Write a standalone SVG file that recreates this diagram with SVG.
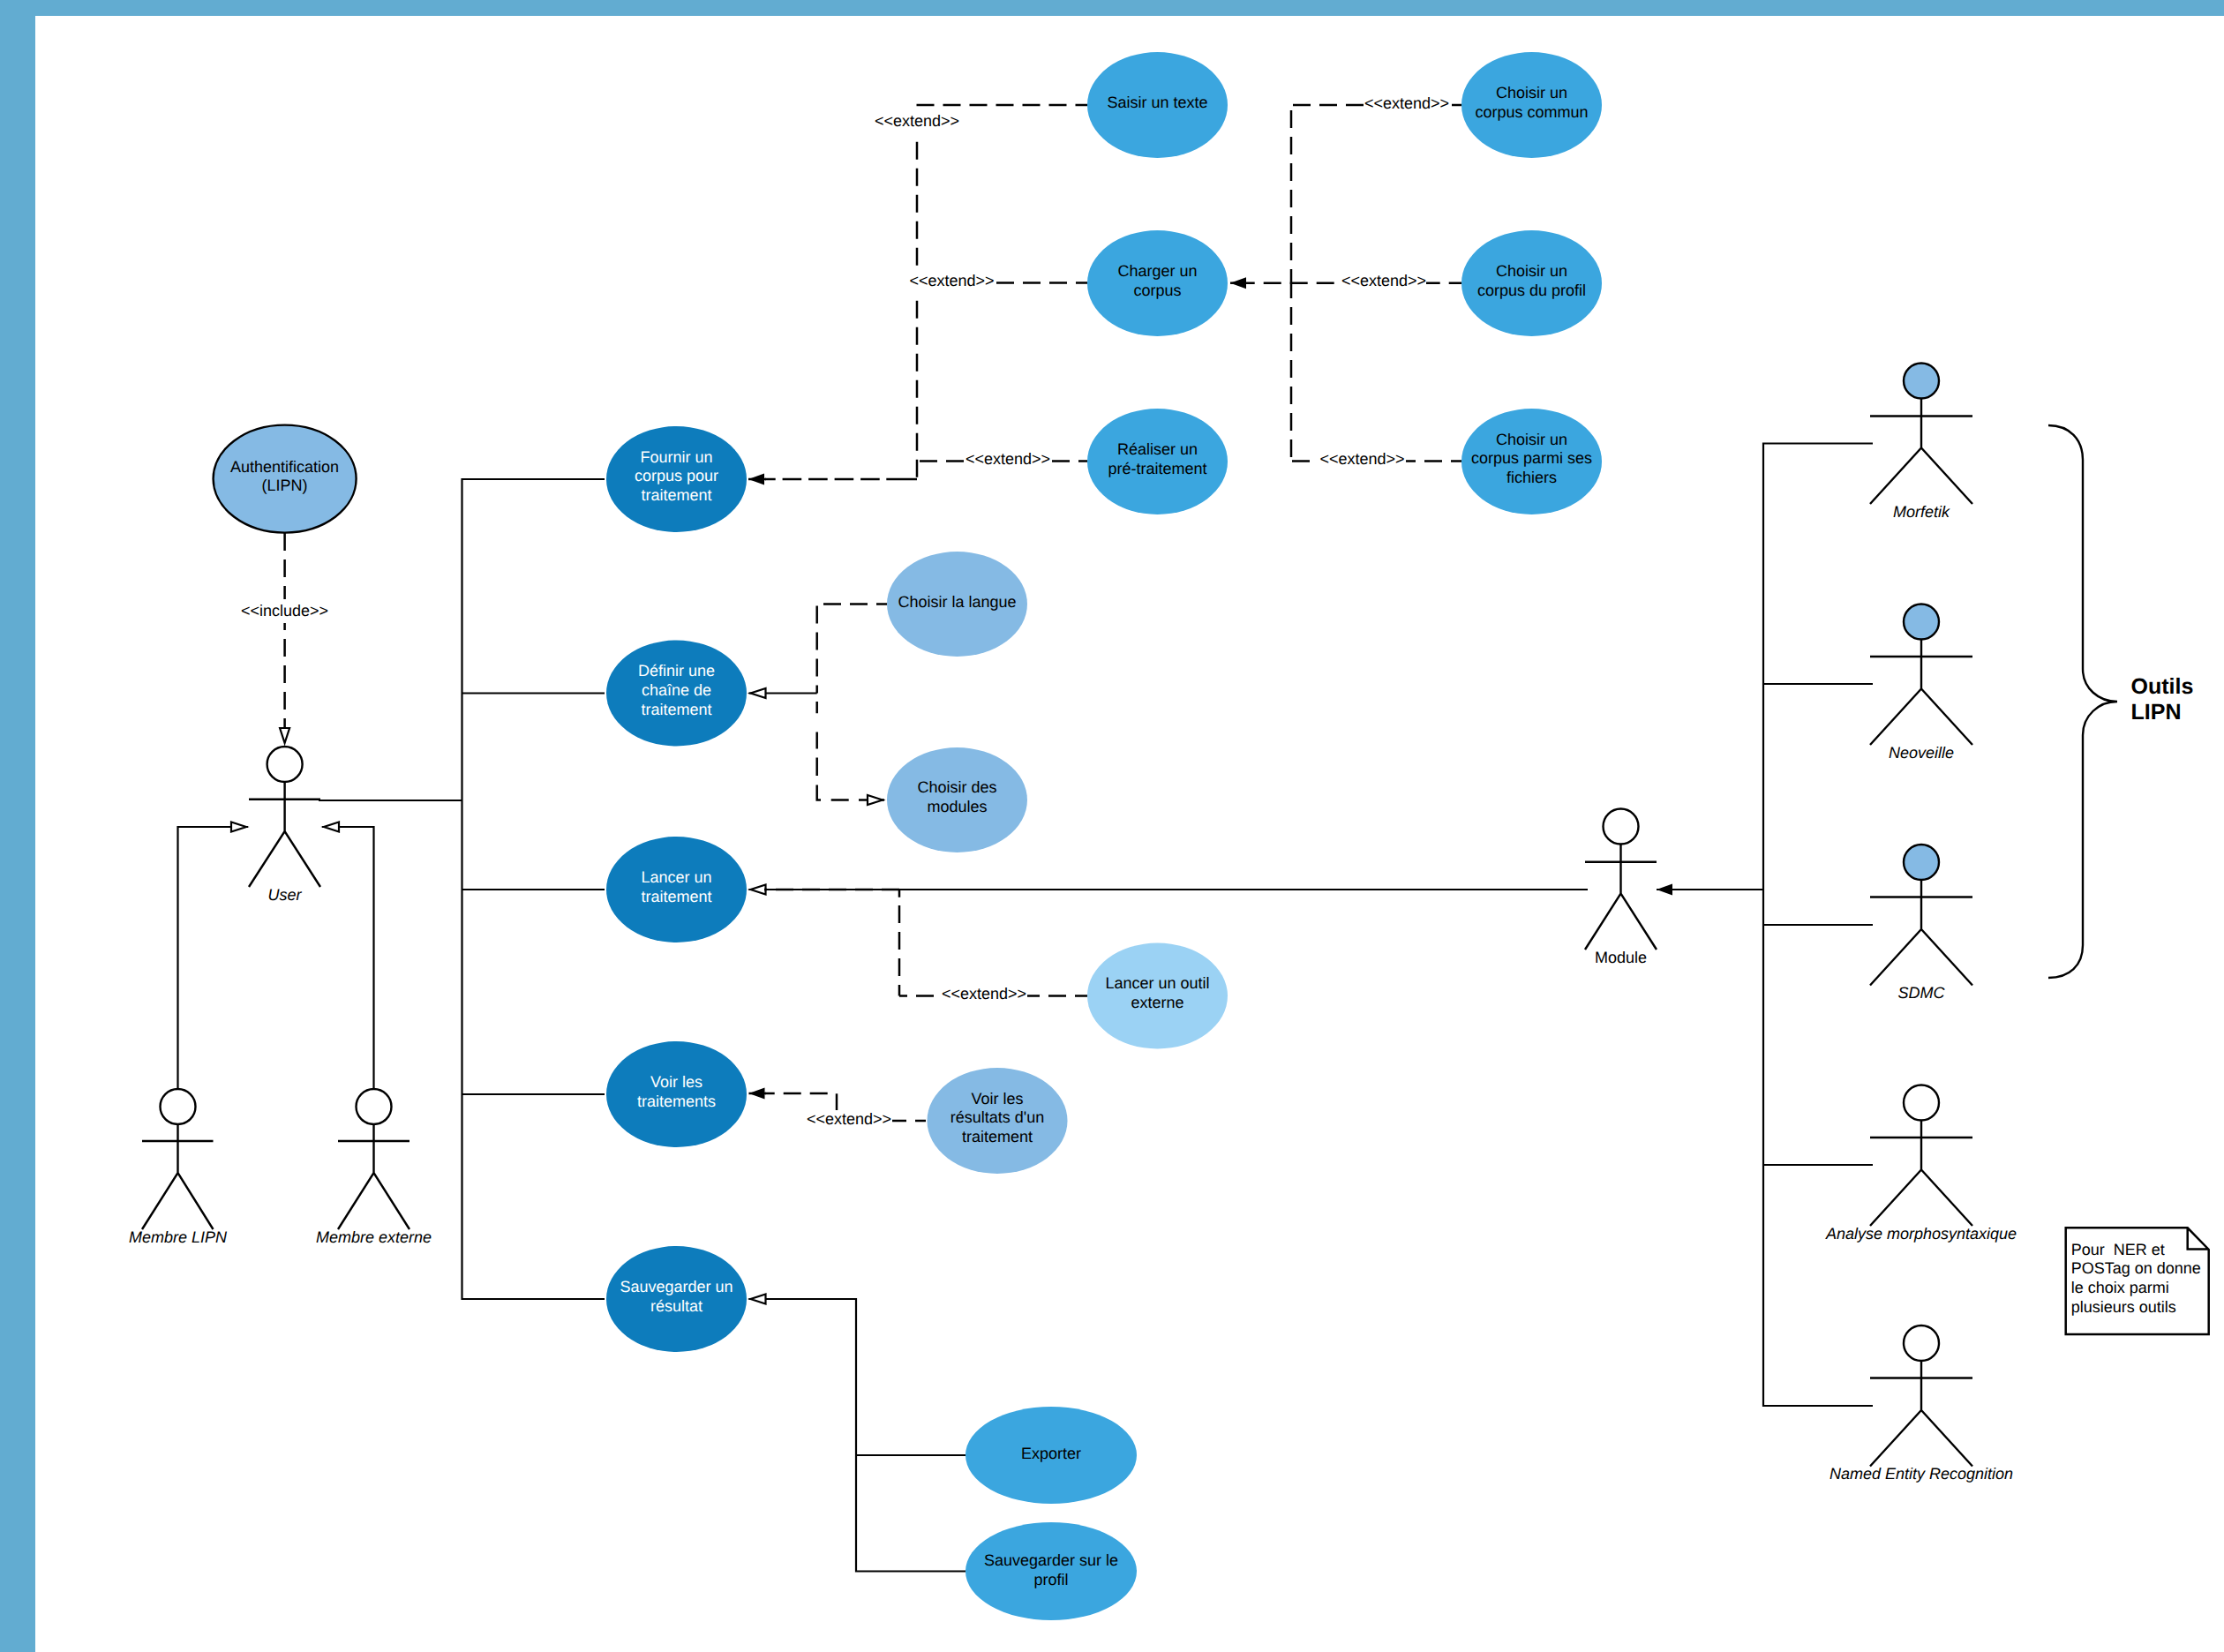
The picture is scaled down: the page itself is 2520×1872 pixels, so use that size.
<svg xmlns="http://www.w3.org/2000/svg" width="2520" height="1872" viewBox="0 0 2520 1872">
<style>
text{font-family:"Liberation Sans",Arial,sans-serif;font-size:18px;fill:#000;text-anchor:middle;text-rendering:geometricPrecision}
.w{fill:#fff}
.i{font-style:italic}
.l{text-anchor:start;white-space:pre}
.b{font-size:25px;font-weight:bold;text-anchor:start}
.dark{fill:#0d7cbc}
.mid{fill:#3ba6df}
.light{fill:#85bae4}
.pale{fill:#9bd2f4}
.fig{fill:none;stroke:#000;stroke-width:2.4}
.head{fill:#fff;stroke:#000;stroke-width:2.4}
.headb{fill:#85bae4;stroke:#000;stroke-width:2.4}
.c{fill:none;stroke:#000;stroke-width:2.2}
.s{fill:none;stroke:#000;stroke-width:2.5}
.d{fill:none;stroke:#000;stroke-width:2.5;stroke-dasharray:20 10}
.mask{fill:#fff}
</style>
<defs>
<marker id="hollow" markerUnits="userSpaceOnUse" markerWidth="26" markerHeight="16" refX="21" refY="8" orient="auto"><path d="M19,8 L2,2.5 L2,13.5 Z" fill="#fff" stroke="#000" stroke-width="2.2"/></marker>
<marker id="solid" markerUnits="userSpaceOnUse" markerWidth="22" markerHeight="16" refX="19" refY="8" orient="auto"><path d="M19,8 L1,1.5 L1,14.5 Z" fill="#000"/></marker>
</defs>
<rect x="0" y="0" width="2520" height="1872" fill="#fff"/>
<g id="frame"><rect x="0" y="0" width="2520" height="18" fill="#62acd1"/><rect x="0" y="0" width="40" height="1872" fill="#62acd1"/></g>

<g id="connectors">
<path class="c" d="M685,543 H523.5 V1472 H685"/>
<path class="c" d="M361,907 H523.5"/>
<path class="c" d="M523.5,785.5 H685"/>
<path class="c" d="M523.5,1008 H685"/>
<path class="c" d="M523.5,1240 H685"/>
<path class="c" d="M201.5,1233 V937 H281" marker-end="url(#hollow)"/>
<path class="c" d="M423.5,1233 V937 H365" marker-end="url(#hollow)"/>
<path class="d" d="M322.6,604 V844" marker-end="url(#hollow)"/>
<path class="d" d="M1038.5,119 H1232"/>
<path class="d" d="M1039,160.7 V543"/>
<path class="s" d="M1039,543 H1004.3"/>
<path class="d" style="stroke-dasharray:21.6 7.9" d="M996.7,543 H867"/>
<path class="s" d="M868,543 H848" marker-end="url(#solid)"/>
<path class="d" d="M1039,320.5 H1232"/>
<path class="d" d="M1042,522.5 H1232"/>
<path class="d" d="M1465,119 H1656"/>
<path class="d" d="M1463,125 V320.5"/>
<path class="d" d="M1463,518 V320.5"/>
<path class="d" d="M1401.7,320.7 H1656"/>
<path class="s" d="M1412,320.7 H1394" marker-end="url(#solid)"/>
<path class="d" d="M1464,522.5 H1656"/>
<path class="d" d="M933,684.5 H1005"/>
<path class="d" d="M925.7,686.5 V785.5"/>
<path class="s" d="M925.7,795 V808.3 M925.7,829.5 V848.5 M925.7,858.5 V879 M925.7,889.5 V906.5 H930 M941.7,906.5 H961.7 M973,906.5 H986"/>
<path class="s" d="M984,906.5 H1002" marker-end="url(#hollow)"/>
<path class="c" d="M925.7,785.5 H848.5" marker-end="url(#hollow)"/>
<path class="c" d="M1799,1008 H848.5" marker-end="url(#hollow)"/>
<path class="s" d="M1019,1008 V1016.7 M1019,1128.5 H1028"/>
<path class="d" d="M1019,1026 V1128.5"/>
<path class="d" d="M1038,1128.5 H1232"/>
<path class="d" d="M1019,1008 H866"/>
<path class="d" d="M937.7,1239 H867"/>
<path class="s" d="M868,1239 H848.5" marker-end="url(#solid)"/>
<path class="s" d="M948,1239.3 V1258"/>
<path class="d" d="M1007,1270 H1049"/>
<path class="c" d="M1094,1780.5 H970 V1472 H848.5" marker-end="url(#hollow)"/>
<path class="c" d="M970,1649 H1094"/>
<path class="c" d="M2122,502.5 H1998 V1593 H2122"/>
<path class="c" d="M1998,775 H2122"/>
<path class="c" d="M1998,1048 H2122"/>
<path class="c" d="M1998,1320 H2122"/>
<path class="c" d="M1998,1008 H1877" marker-end="url(#solid)"/>
<g id="labels">
<rect class="mask" x="274" y="679" width="98" height="27"/><text x="322.6" y="698">&lt;&lt;include&gt;&gt;</text>
<rect class="mask" x="990" y="123" width="98" height="27"/><text x="1039" y="143">&lt;&lt;extend&gt;&gt;</text>
<rect class="mask" x="1030" y="305" width="97" height="26"/><text x="1078.5" y="324">&lt;&lt;extend&gt;&gt;</text>
<rect class="mask" x="1093" y="507" width="98" height="26"/><text x="1142" y="526">&lt;&lt;extend&gt;&gt;</text>
<rect class="mask" x="1545" y="104" width="97" height="26"/><text x="1594" y="122.5">&lt;&lt;extend&gt;&gt;</text>
<rect class="mask" x="1519" y="305" width="97" height="26"/><text x="1568" y="324">&lt;&lt;extend&gt;&gt;</text>
<rect class="mask" x="1490" y="507" width="103" height="26"/><text x="1543.5" y="526">&lt;&lt;extend&gt;&gt;</text>
<rect class="mask" x="1066" y="1113" width="98" height="26"/><text x="1115" y="1132">&lt;&lt;extend&gt;&gt;</text>
<rect class="mask" x="913" y="1258" width="98" height="22"/><text x="962" y="1274">&lt;&lt;extend&gt;&gt;</text>
</g>
</g>

<g id="auth"><ellipse cx="322.6" cy="542.6" rx="81" ry="61" class="light" stroke="#000" stroke-width="2.4"/><text x="322.6" y="534.5">Authentification</text><text x="322.6" y="556.3">(LIPN)</text></g>
<g id="fournir"><ellipse cx="766.5" cy="543" rx="79.5" ry="60" class="dark"/><text class="w" x="766.5" y="523.5">Fournir un</text><text class="w" x="766.5" y="545.3">corpus pour</text><text class="w" x="766.5" y="567.1">traitement</text></g>
<g id="definir"><ellipse cx="766.5" cy="785.5" rx="79.5" ry="60" class="dark"/><text class="w" x="766.5" y="766">Définir une</text><text class="w" x="766.5" y="787.8">chaîne de</text><text class="w" x="766.5" y="809.6">traitement</text></g>
<g id="lancer"><ellipse cx="766.5" cy="1008" rx="79.5" ry="60" class="dark"/><text class="w" x="766.5" y="999.9">Lancer un</text><text class="w" x="766.5" y="1021.7">traitement</text></g>
<g id="voir"><ellipse cx="766.5" cy="1240" rx="79.5" ry="60" class="dark"/><text class="w" x="766.5" y="1231.9">Voir les</text><text class="w" x="766.5" y="1253.7">traitements</text></g>
<g id="sauvegarder"><ellipse cx="766.5" cy="1472" rx="79.5" ry="60" class="dark"/><text class="w" x="766.5" y="1463.9">Sauvegarder un</text><text class="w" x="766.5" y="1485.7">résultat</text></g>

<g id="saisir"><ellipse cx="1311.5" cy="119" rx="79.5" ry="60" class="mid"/><text x="1311.5" y="122">Saisir un texte</text></g>
<g id="charger"><ellipse cx="1311.5" cy="321" rx="79.5" ry="60" class="mid"/><text x="1311.5" y="313">Charger un</text><text x="1311.5" y="334.8">corpus</text></g>
<g id="realiser"><ellipse cx="1311.5" cy="523" rx="79.5" ry="60" class="mid"/><text x="1311.5" y="515">Réaliser un</text><text x="1311.5" y="536.8">pré-traitement</text></g>
<g id="commun"><ellipse cx="1735.5" cy="119" rx="79.5" ry="60" class="mid"/><text x="1735.5" y="110.9">Choisir un</text><text x="1735.5" y="132.7">corpus commun</text></g>
<g id="profil"><ellipse cx="1735.5" cy="321" rx="79.5" ry="60" class="mid"/><text x="1735.5" y="313">Choisir un</text><text x="1735.5" y="334.8">corpus du profil</text></g>
<g id="fichiers"><ellipse cx="1735.5" cy="523" rx="79.5" ry="60" class="mid"/><text x="1735.5" y="503.5">Choisir un</text><text x="1735.5" y="525.3">corpus parmi ses</text><text x="1735.5" y="547.1">fichiers</text></g>
<g id="langue"><ellipse cx="1084.5" cy="684.5" rx="79.5" ry="59.5" class="light"/><text x="1084.5" y="687.7">Choisir la langue</text></g>
<g id="modules"><ellipse cx="1084.5" cy="906.5" rx="79.5" ry="59.5" class="light"/><text x="1084.5" y="898.4">Choisir des</text><text x="1084.5" y="920.2">modules</text></g>
<g id="outil"><ellipse cx="1311.5" cy="1128.5" rx="79.5" ry="60" class="pale"/><text x="1311.5" y="1120.4">Lancer un outil</text><text x="1311.5" y="1142.2">externe</text></g>
<g id="resultats"><ellipse cx="1130" cy="1270" rx="79.5" ry="60" class="light"/><text x="1130" y="1250.5">Voir les</text><text x="1130" y="1272.3">résultats d'un</text><text x="1130" y="1294.1">traitement</text></g>
<g id="exporter"><ellipse cx="1191" cy="1649" rx="97" ry="55" class="mid"/><text x="1191" y="1653">Exporter</text></g>
<g id="sauv-profil"><ellipse cx="1191" cy="1780.5" rx="97" ry="55.5" class="mid"/><text x="1191" y="1774">Sauvegarder sur le</text><text x="1191" y="1795.8">profil</text></g>

<g id="actor-user"><circle cx="322.6" cy="866" r="20" class="head"/><path class="fig" d="M322.6,886 V942 M282,905.7 H363 M282,1005 L322.6,942 L363,1005"/><text class="i" x="322.6" y="1020">User</text></g>
<g id="actor-lipn"><circle cx="201.5" cy="1254" r="20" class="head"/><path class="fig" d="M201.5,1274 V1329 M161,1293 H241.5 M161,1393 L201.5,1329 L241.5,1393"/><text class="i" x="201.5" y="1408">Membre LIPN</text></g>
<g id="actor-externe"><circle cx="423.5" cy="1254" r="20" class="head"/><path class="fig" d="M423.5,1274 V1329 M383,1293 H464 M383,1393 L423.5,1329 L464,1393"/><text class="i" x="423.5" y="1408">Membre externe</text></g>
<g id="actor-module"><circle cx="1836.5" cy="936.5" r="20" class="head"/><path class="fig" d="M1836.5,956.5 V1012.5 M1796,976.7 H1877 M1796,1076 L1836.5,1012.5 L1877,1076"/><text x="1836.5" y="1091">Module</text></g>
<g id="actor-morfetik"><circle cx="2177" cy="431.5" r="20" class="headb"/><path class="fig" d="M2177,451.5 V507.5 M2119,471.5 H2235 M2119,571 L2177,507.5 L2235,571"/><text class="i" x="2177" y="586">Morfetik</text></g>
<g id="actor-neoveille"><circle cx="2177" cy="704.5" r="20" class="headb"/><path class="fig" d="M2177,724.5 V780.5 M2119,744 H2235 M2119,844 L2177,780.5 L2235,844"/><text class="i" x="2177" y="859">Neoveille</text></g>
<g id="actor-sdmc"><circle cx="2177" cy="977" r="20" class="headb"/><path class="fig" d="M2177,997 V1053 M2119,1016.5 H2235 M2119,1116.5 L2177,1053 L2235,1116.5"/><text class="i" x="2177" y="1131">SDMC</text></g>
<g id="actor-analyse"><circle cx="2177" cy="1249.5" r="20" class="head"/><path class="fig" d="M2177,1269.5 V1325.5 M2119,1289 H2235 M2119,1389 L2177,1325.5 L2235,1389"/><text class="i" x="2177" y="1403.5">Analyse morphosyntaxique</text></g>
<g id="actor-ner"><circle cx="2177" cy="1522" r="20" class="head"/><path class="fig" d="M2177,1542 V1598 M2119,1561.5 H2235 M2119,1661.5 L2177,1598 L2235,1661.5"/><text class="i" x="2177" y="1676">Named Entity Recognition</text></g>

<g id="brace"><path class="fig" d="M2321,482 C2345,482 2360,498 2360,521 V758 C2360,780 2378,795 2399,795 C2378,795 2360,811 2360,833 V1071 C2360,1094 2345,1108 2321,1108"/><text class="b" x="2414.5" y="786">Outils</text><text class="b" x="2414.5" y="815">LIPN</text></g>
<g id="note"><path d="M2340.7,1391.3 H2478.7 L2502.7,1416 V1512 H2340.7 Z M2478.7,1391.3 V1415.5 H2502.7" fill="#fff" stroke="#000" stroke-width="2.5"/><text class="l" x="2346.7" y="1421.5">Pour  NER et</text><text class="l" x="2346.7" y="1443.3">POSTag on donne</text><text class="l" x="2346.7" y="1465.1">le choix parmi</text><text class="l" x="2346.7" y="1486.9">plusieurs outils</text></g>
</svg>
